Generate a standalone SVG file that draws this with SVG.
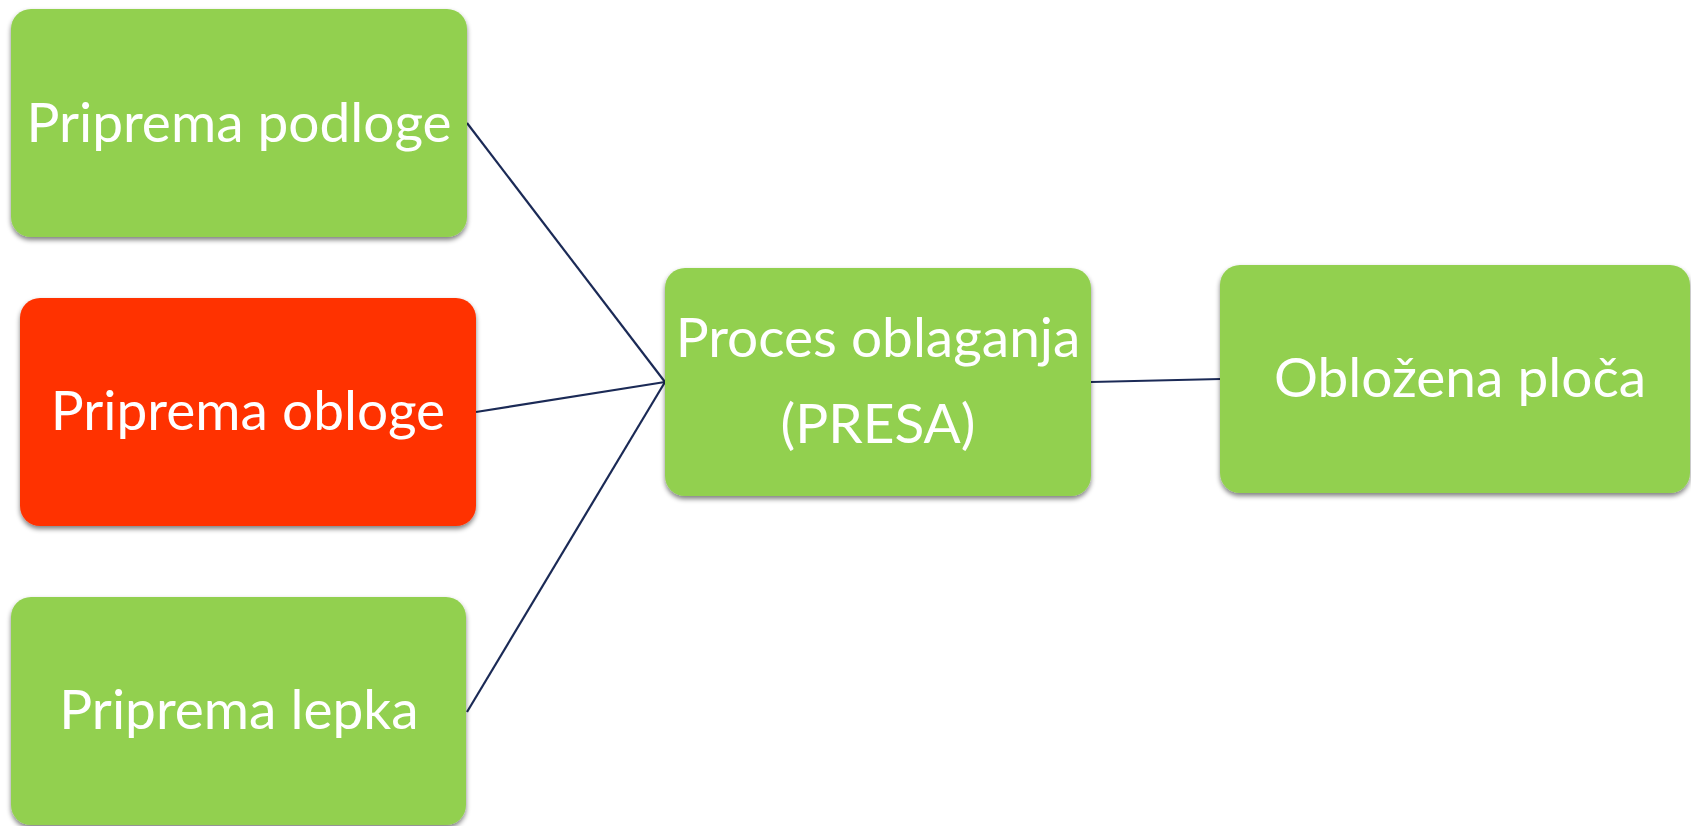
<svg xmlns="http://www.w3.org/2000/svg" width="1691" height="826" viewBox="0 0 1691 826">
  <style>
    .box { stroke: none; filter: url(#shadow); }
    .green { fill: #92D050; }
    .red { fill: #FF3300; }
    .lbl { font-family: Lato, "Open Sans", "Liberation Sans", sans-serif; font-size: 55px; fill: #FFFFFF; text-anchor: middle; }
    .conn { stroke: #1B2A56; stroke-width: 2.2; fill: none; }
  </style>
  <defs>
    <filter id="shadow" x="-5%" y="-5%" width="110%" height="115%">
      <feGaussianBlur in="SourceAlpha" stdDeviation="2.5"/>
      <feOffset dx="0" dy="3" result="b"/>
      <feComponentTransfer><feFuncA type="linear" slope="0.5"/></feComponentTransfer>
      <feMerge><feMergeNode/><feMergeNode in="SourceGraphic"/></feMerge>
    </filter>
  </defs>
  <rect width="1691" height="826" fill="#FFFFFF"/>
  <g id="connectors">
    <line class="conn" x1="467" y1="123" x2="665" y2="382"/>
    <line class="conn" x1="476" y1="412" x2="665" y2="382"/>
    <line class="conn" x1="467" y1="712" x2="665" y2="382"/>
    <line class="conn" x1="1091" y1="382" x2="1221" y2="379"/>
  </g>
  <g id="node-podloge">
    <rect class="box green" x="11" y="9" width="456" height="228" rx="20"/>
    <text class="lbl" x="239" y="142">Priprema podloge</text>
  </g>
  <g id="node-obloge">
    <rect class="box red" x="20" y="298" width="456" height="228" rx="20"/>
    <text class="lbl" x="248" y="430">Priprema obloge</text>
  </g>
  <g id="node-lepka">
    <rect class="box green" x="11" y="597" width="455" height="228" rx="20"/>
    <text class="lbl" x="239" y="729">Priprema lepka</text>
  </g>
  <g id="node-proces">
    <rect class="box green" x="665" y="268" width="426" height="228" rx="20"/>
    <text class="lbl" x="878" y="357">Proces oblaganja</text>
    <text class="lbl" x="878" y="443">(PRESA)</text>
  </g>
  <g id="node-oblozena">
    <rect class="box green" x="1220" y="265" width="470" height="228" rx="20"/>
    <text class="lbl" x="1460" y="397">Obložena ploča</text>
  </g>
</svg>
